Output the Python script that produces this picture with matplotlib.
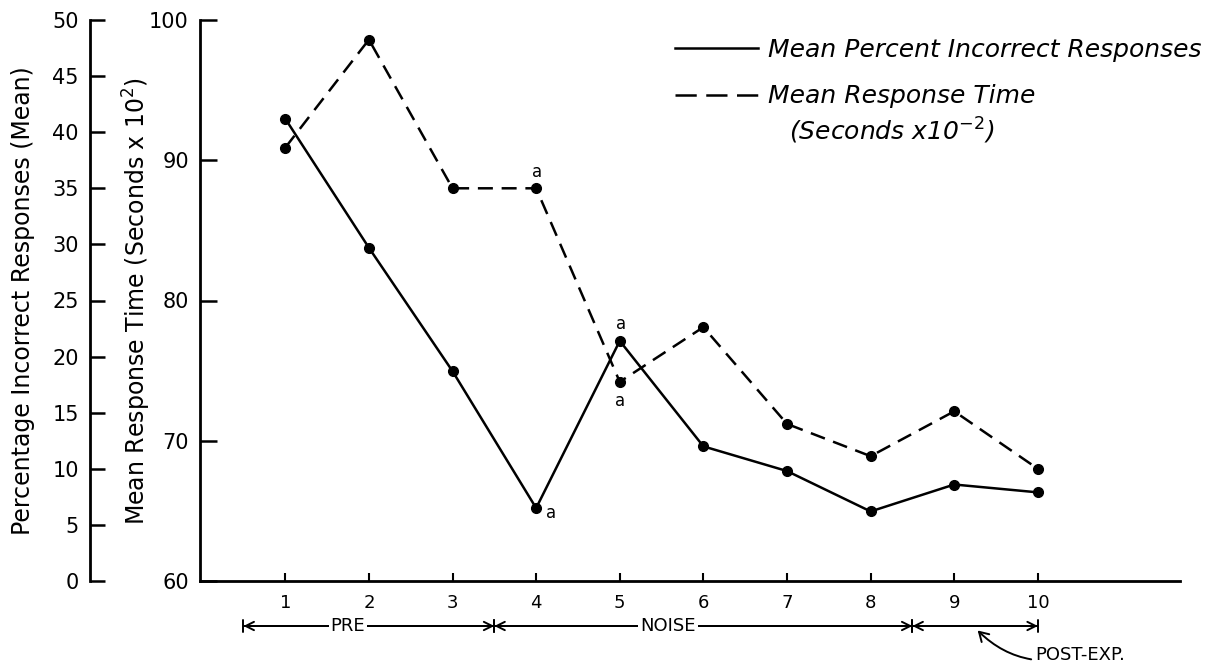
import matplotlib
matplotlib.use("Agg")
import matplotlib.pyplot as plt
import matplotlib.transforms as mtransforms
from matplotlib.lines import Line2D

# ---- data ----
sessions = [1, 2, 3, 4, 5, 6, 7, 8, 9, 10]
pct_incorrect = [41.2, 29.7, 18.7, 6.5, 21.4, 12.0, 9.8, 6.2, 8.6, 7.9]
resp_time = [90.9, 98.6, 88.0, 88.0, 74.2, 78.1, 71.2, 68.9, 72.1, 68.0]
pct_ticks = [0, 5, 10, 15, 20, 25, 30, 35, 40, 45, 50]
time_ticks = [60, 70, 80, 90, 100]
# 'a' marks: (series, session index, placement)
a_marks = [("time", 3, "above"), ("pct", 3, "right"), ("pct", 4, "above"), ("time", 4, "below")]
periods = [("PRE", 0.5, 3.5, 1.75), ("NOISE", 3.5, 8.5, 5.58), ("", 8.5, 10, None)]
legend_labels = ["Mean Percent Incorrect Responses", "Mean Response Time"]
legend_sub = "(Seconds x10$^{-2}$)"

plt.rcParams['font.family'] = ['DejaVu Sans']

fig = plt.figure(figsize=(12.15, 6.66), dpi=100)
ax = fig.add_axes([200/1215, 85/666, 980/1215, 561/666])
ax.set_xlim(-0.02, 11.7)
ax.set_ylim(60, 100)

lw_spine = 2.0
for s in ['top', 'right']:
    ax.spines[s].set_visible(False)
for s in ['left', 'bottom']:
    ax.spines[s].set_linewidth(lw_spine)

ax.set_yticks(time_ticks)
ax.tick_params(axis='y', direction='in', length=12, width=1.8, labelsize=15, pad=8)
ax.set_xticks(sessions)
ax.tick_params(axis='x', direction='in', length=6, width=1.5, labelsize=13, pad=9)
ax.set_ylabel("Mean Response Time (Seconds x 10$^2$)", fontsize=17)
ax.yaxis.set_label_coords((153 - 200) / 980, 0.5)

# left percentage axis
ax2 = ax.twinx()
ax2.set_ylim(0, 50)
ax2.spines['right'].set_visible(False)
ax2.spines['top'].set_visible(False)
ax2.spines['bottom'].set_visible(False)
ax2.spines['left'].set_position(('axes', -110/980))
ax2.spines['left'].set_linewidth(lw_spine)
ax2.yaxis.set_ticks_position('left')
ax2.yaxis.set_label_position('left')
ax2.set_yticks(pct_ticks)
ax2.tick_params(axis='y', direction='in', length=11, width=1.8, labelsize=15, pad=8)
ax2.set_ylabel("Percentage Incorrect Responses (Mean)", fontsize=17)
ax2.yaxis.set_label_coords((35 - 200) / 980, 0.5)

# series
ax.plot(sessions, resp_time, color='black', lw=1.8, ls=(0, (6, 3.5)),
        marker='o', ms=7, zorder=3)
ax2.plot(sessions, pct_incorrect, color='black', lw=1.8, ls='-',
         marker='o', ms=7, zorder=3)

# 'a' annotations
offsets = {"above": (1, 12), "below": (0, -14), "right": (11, -3.5)}
for series, i, where in a_marks:
    target = ax if series == "time" else ax2
    yv = resp_time[i] if series == "time" else pct_incorrect[i]
    dx, dy = offsets[where]
    target.annotate("a", (sessions[i], yv), xytext=(dx, dy), textcoords='offset points',
                    ha='center', va='center', fontsize=12)

# legend
handles = [Line2D([], [], color='black', lw=1.8, ls='-'),
           Line2D([], [], color='black', lw=1.8, ls=(0, (8.5, 3.8)))]
leg = ax.legend(handles, legend_labels, loc='upper left',
                bbox_to_anchor=((675 - 200) / 980, (581 - 38) / 561),
                frameon=False, borderpad=0, borderaxespad=0,
                handlelength=3.3, handletextpad=0.4, labelspacing=0.9,
                prop={'style': 'italic', 'size': 18})
ax.text((789 - 200) / 980, (581 - 131) / 561, legend_sub, transform=ax.transAxes,
        ha='left', va='center', fontsize=18, style='italic')

# period brackets below axis
trans = mtransforms.blended_transform_factory(ax.transData, ax.transAxes)
yb = (581 - 626) / 561
for name, x0, x1, xt in periods:
    ax.annotate("", xy=(x1, yb), xytext=(x0, yb), xycoords=trans, textcoords=trans,
                arrowprops=dict(arrowstyle='|-|,widthA=0.45,widthB=0.45', lw=1.4,
                                shrinkA=0, shrinkB=0), annotation_clip=False)
    ax.annotate("", xy=(x1, yb), xytext=(x0, yb), xycoords=trans, textcoords=trans,
                arrowprops=dict(arrowstyle='<->,head_length=0.6,head_width=0.3', lw=1.4,
                                shrinkA=0, shrinkB=0), annotation_clip=False)
    if name:
        ax.text(xt, yb, name, transform=trans, ha='center', va='center', fontsize=13,
                bbox=dict(facecolor='white', edgecolor='none', pad=1.5))

ax.annotate("POST-EXP.", xy=(9.28, yb - 0.008), xytext=(9.97, (581 - 655) / 561),
            xycoords=trans, textcoords=trans, ha='left', va='center', fontsize=13,
            arrowprops=dict(arrowstyle='->,head_length=0.5,head_width=0.3', lw=1.4,
                            connectionstyle='arc3,rad=-0.3', shrinkA=1, shrinkB=0),
            annotation_clip=False)

fig.savefig("out.png", dpi=100)
